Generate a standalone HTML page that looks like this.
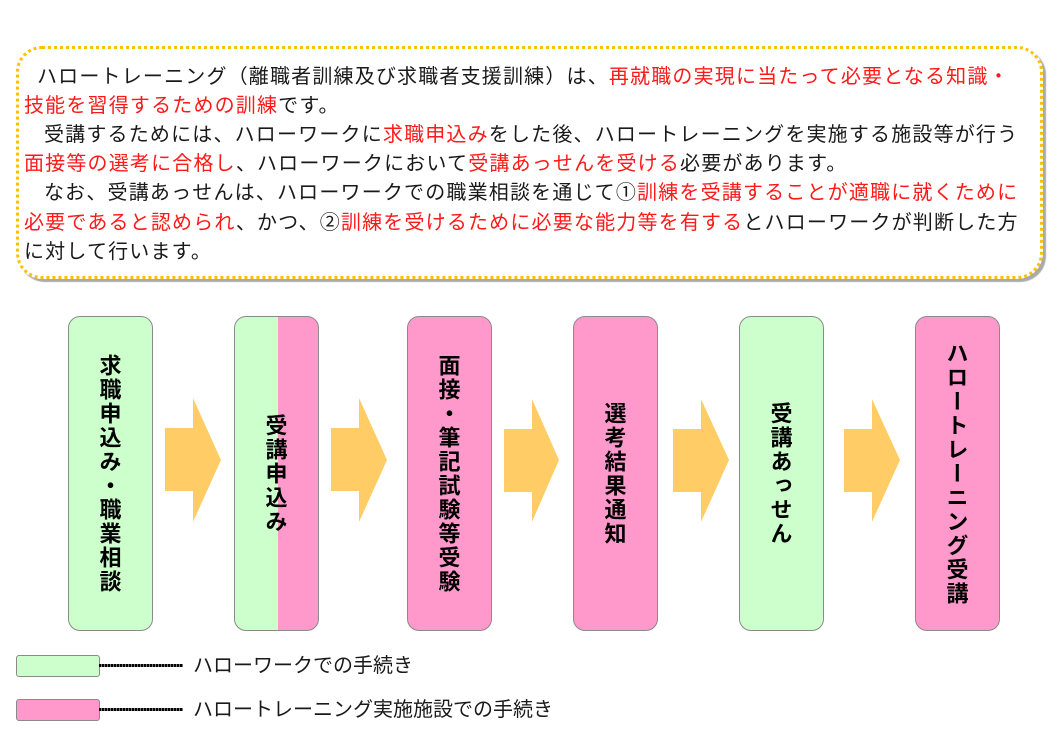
<!DOCTYPE html>
<html>
<head>
<meta charset="utf-8">
<style>
  html,body{margin:0;padding:0;background:#fff;}
  body{width:1058px;height:756px;position:relative;overflow:hidden;
       font-family:"Liberation Sans","Noto Sans CJK JP",sans-serif;}
  .callout{position:absolute;left:16px;top:46px;width:1021px;height:227px;
       border:3px dotted #FFC000;border-radius:26px;
       box-shadow:3px 3px 1px #aaa;background:#fff;}
  .ln{position:absolute;white-space:nowrap;font-size:20px;letter-spacing:1.18px;
      line-height:29px;height:29px;color:#1a1a1a;
      font-family:"Noto Sans CJK JP","Liberation Sans",sans-serif;}
  .r{color:#ff1a1a;}
  .box{position:absolute;top:316px;height:313px;width:83px;border:1px solid #8a8a8a;
       border-radius:12px;display:flex;align-items:center;justify-content:center;overflow:hidden;}
  .g{background:#CCFFCC;}
  .p{background:#FF99CC;}
  .split{background:linear-gradient(90deg,#CCFFCC 0,#CCFFCC 43px,#FF99CC 43px,#FF99CC 100%);}
  .vt{writing-mode:vertical-rl;font-size:22px;font-weight:bold;letter-spacing:2px;
      line-height:24px;color:#000;
      font-family:"Noto Sans CJK JP","Liberation Sans",sans-serif;}
  .leg{position:absolute;left:16px;width:82px;height:20px;border:1px solid #8a8a8a;border-radius:3px;}
  .dots{position:absolute;left:99px;width:84px;height:3px;
        background:repeating-linear-gradient(90deg,#000 0,#000 2px,#777 2px,#777 3px);}
  .lt{position:absolute;left:193px;font-size:20px;line-height:26px;color:#1a1a1a;white-space:nowrap;
      font-family:"Noto Sans CJK JP","Liberation Sans",sans-serif;}
</style>
</head>
<body>
<div class="callout"></div>
<div class="ln" style="left:37px;top:60px;">ハロートレーニング（離職者訓練及び求職者支援訓練）は、<span class="r">再就職の実現に当たって必要となる知識・</span></div>
<div class="ln" style="left:24px;top:89px;"><span class="r">技能を習得するための訓練</span>です。</div>
<div class="ln" style="left:44px;top:118px;">受講するためには、ハローワークに<span class="r">求職申込み</span>をした後、ハロートレーニングを実施する施設等が行う</div>
<div class="ln" style="left:24px;top:147px;"><span class="r">面接等の選考に合格し</span>、ハローワークにおいて<span class="r">受講あっせんを受ける</span>必要があります。</div>
<div class="ln" style="left:44px;top:176px;">なお、受講あっせんは、ハローワークでの職業相談を通じて①<span class="r">訓練を受講することが適職に就くために</span></div>
<div class="ln" style="left:24px;top:206px;"><span class="r">必要であると認められ</span>、かつ、②<span class="r">訓練を受けるために必要な能力等を有する</span>とハローワークが判断した方</div>
<div class="ln" style="left:24px;top:235px;">に対して行います。</div>

<svg width="1058" height="756" style="position:absolute;left:0;top:0;" xmlns="http://www.w3.org/2000/svg">
  <g fill="#FFCC66">
    <polygon points="165,428 193,428 193,398 221,460 193,522 193,491 165,491"/>
    <polygon points="331,428 359,428 359,398 387,460 359,522 359,491 331,491"/>
    <polygon points="504,429 532,429 532,399 559,460 532,522 532,492 504,492"/>
    <polygon points="673,429 701,429 701,399 729,460 701,522 701,492 673,492"/>
    <polygon points="844,429 872,429 872,399 900,460 872,522 872,492 844,492"/>
  </g>
</svg>

<div class="box g" style="left:68px;"><div class="vt">求職申込み・職業相談</div></div>
<div class="box split" style="left:234px;"><div class="vt">受講申込み</div></div>
<div class="box p" style="left:407px;"><div class="vt">面接・筆記試験等受験</div></div>
<div class="box p" style="left:573px;"><div class="vt">選考結果通知</div></div>
<div class="box g" style="left:739px;"><div class="vt">受講あっせん</div></div>
<div class="box p" style="left:915px;"><div class="vt">ハロートレーニング受講</div></div>

<div class="leg g" style="top:655px;"></div>
<div class="dots" style="top:664px;"></div>
<div class="lt" style="top:651px;">ハローワークでの手続き</div>

<div class="leg p" style="top:699px;"></div>
<div class="dots" style="top:708px;"></div>
<div class="lt" style="top:695px;">ハロートレーニング実施施設での手続き</div>
</body>
</html>
